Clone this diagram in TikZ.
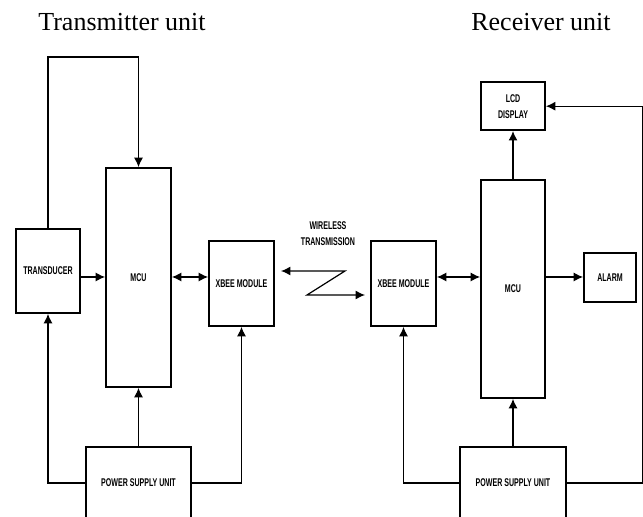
\documentclass[tikz,border=0pt]{standalone}
\usepackage{fontspec}
\setmainfont{Liberation Serif}
\newfontfamily\blockfont[FakeStretch=0.63]{Liberation Sans}
\usetikzlibrary{arrows.meta,positioning}

\begin{document}
\begin{tikzpicture}[x=0.5pt, y=-0.5pt]
\tikzset{
    block/.style={rectangle, draw=black, line width=0.9pt, inner sep=1pt, align=center, font=\blockfont\bfseries\fontsize{5.6}{8}\selectfont},
    link/.style={>={Latex[length=4.7pt, width=4.5pt]}, line width=0.6pt},
    unitlabel/.style={anchor=base, font=\fontsize{13}{15}\selectfont}
}
\useasboundingbox (0,0) rectangle (643,517);

\node[unitlabel] (txtitle) at (122,31) {Transmitter unit};
\node[unitlabel] (rxtitle) at (541,31) {Receiver unit};

% transmitter unit
\node[block, minimum width=32pt, minimum height=42pt] (trans) at (48,271) {TRANSDUCER};
\node[block, minimum width=32.5pt, minimum height=109.5pt] (mcuT) at (138.5,277.5) {MCU};
\node[block, minimum width=32.5pt, minimum height=42.5pt] (xbT) at (241.5,283.5) {XBEE MODULE};
\node[block, minimum width=52.5pt, minimum height=36pt] (psuT) at (138.5,483) {POWER SUPPLY UNIT};

% receiver unit
\node[block, minimum width=32.5pt, minimum height=42.5pt] (xbR) at (403.5,283.5) {XBEE MODULE};
\node[block, minimum width=32pt, minimum height=109pt] (mcuR) at (513,289) {MCU};
\node[block, minimum width=32pt, minimum height=24pt, above=24pt of mcuR] (lcd) {LCD\\DISPLAY};
\node[block, minimum width=26pt, minimum height=24.5pt] (alarm) at (610,277.5) {ALARM};
\node[block, minimum width=53pt, minimum height=36pt] (psuR) at (513,483) {POWER SUPPLY UNIT};

\node[align=center, inner sep=0pt, font=\blockfont\bfseries\fontsize{5.6}{8}\selectfont] (wireless) at (328,234) {WIRELESS\\TRANSMISSION};

\coordinate (row) at (0,277);
\coordinate (zleft) at (281,271);

\draw[link,->] (trans.north) -- ++(0,-171) -| (mcuT.north);
\draw[link,->] (trans.east |- row) -- (mcuT.west |- row);
\draw[link,<->] (mcuT.east |- row) -- (xbT.west |- row);
\draw[link,->] (psuT.north) -- (mcuT.south);
\draw[link,->] (psuT.west) -| (trans.south);
\draw[link,->] (psuT.east) -| (xbT.south);

% wireless link
\draw[link,<->] (zleft) -- ++(64,0) -- ++(-38,24) -- ++(58,0);

\draw[link,<->] (xbR.east |- row) -- (mcuR.west |- row);
\draw[link,->] (mcuR.east |- row) -- (alarm.west |- row);
\draw[link,->] (mcuR.north) -- (lcd.south);
\draw[link,->] (psuR.north) -- (mcuR.south);
\draw[link,->] (psuR.west) -| (xbR.south);
\draw[link,->] (psuR.east) -- ++(76,0) |- (lcd.east);

\end{tikzpicture}
\end{document}
